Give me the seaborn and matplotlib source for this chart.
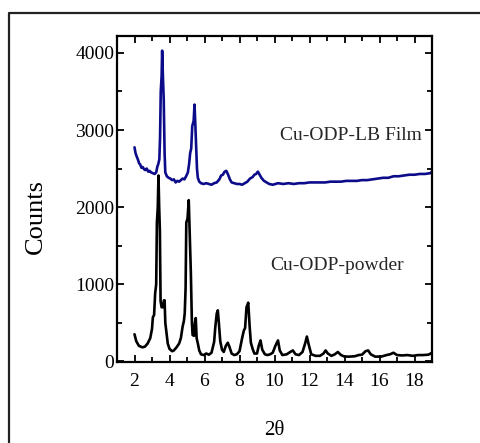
import numpy as np
import pandas as pd
import matplotlib
matplotlib.use("Agg")
import matplotlib.pyplot as plt
from matplotlib.lines import Line2D
from matplotlib.ticker import MultipleLocator
import seaborn as sns

# X-ray diffraction patterns: 2-theta (degrees) and counts
powder_2theta = [2.00, 2.10, 2.25, 2.45, 2.60, 2.75, 2.90, 3.00, 3.05, 3.12, 3.18, 3.24, 3.28, 3.33,
                 3.37, 3.41, 3.45, 3.49, 3.55, 3.62, 3.68, 3.72, 3.76, 3.82, 3.90, 4.00, 4.15, 4.25,
                 4.40, 4.55, 4.65, 4.75, 4.82, 4.87, 4.92, 4.96, 5.03, 5.10, 5.16, 5.22, 5.28, 5.32,
                 5.40, 5.45, 5.50, 5.55, 5.62, 5.70, 5.80, 5.95, 6.10, 6.25, 6.40, 6.55, 6.62, 6.70,
                 6.76, 6.82, 6.90, 7.00, 7.10, 7.22, 7.33, 7.42, 7.55, 7.70, 7.85, 8.00, 8.15, 8.25,
                 8.32, 8.40, 8.50, 8.58, 8.65, 8.75, 8.85, 9.00, 9.10, 9.20, 9.30, 9.45, 9.60, 9.75,
                 9.90, 10.05, 10.20, 10.30, 10.45, 10.70, 10.90, 11.05, 11.20, 11.40, 11.60, 11.75,
                 11.85, 11.95, 12.10, 12.35, 12.60, 12.80, 12.92, 13.05, 13.25, 13.45, 13.62, 13.80,
                 14.00, 14.30, 14.60, 14.80, 15.00, 15.20, 15.35, 15.50, 15.75, 16.10, 16.40, 16.60,
                 16.80, 17.00, 17.30, 17.60, 17.90, 18.20, 18.50, 18.80, 19.00]
powder_counts = [350, 260, 200, 180, 190, 230, 300, 420, 570, 600, 880, 1000, 1800, 2000,
                 2410, 2000, 1700, 780, 700, 700, 790, 790, 500, 380, 230, 160, 130, 140,
                 180, 230, 300, 450, 520, 620, 950, 1800, 1850, 2090, 1600, 1150, 500, 340,
                 330, 500, 560, 300, 230, 140, 90, 80, 100, 85, 110, 250, 450, 620,
                 660, 500, 260, 150, 120, 200, 240, 190, 100, 80, 90, 130, 300, 400,
                 430, 700, 760, 450, 240, 160, 100, 100, 200, 270, 150, 90, 80, 90,
                 110, 200, 270, 140, 80, 90, 120, 140, 90, 80, 120, 230,
                 320, 220, 90, 70, 70, 100, 140, 100, 70, 90, 120, 80,
                 60, 60, 65, 80, 85, 130, 140, 90, 60, 60, 80, 90,
                 110, 80, 75, 80, 70, 80, 80, 85, 110]

film_2theta = [2.00, 2.06, 2.12, 2.19, 2.26, 2.33, 2.40, 2.47, 2.55, 2.62, 2.70, 2.78, 2.86, 2.95,
               3.05, 3.15, 3.24, 3.30, 3.36, 3.42, 3.46, 3.50, 3.55, 3.58, 3.63, 3.67, 3.72, 3.76,
               3.85, 3.95, 4.05, 4.15, 4.25, 4.35, 4.45, 4.55, 4.65, 4.75, 4.85, 4.95, 5.05, 5.12,
               5.18, 5.24, 5.30, 5.38, 5.43, 5.48, 5.52, 5.57, 5.62, 5.70, 5.80, 5.95, 6.10, 6.25,
               6.40, 6.55, 6.70, 6.85, 6.95, 7.05, 7.15, 7.25, 7.35, 7.45, 7.55, 7.70, 7.85, 8.00,
               8.15, 8.30, 8.45, 8.60, 8.75, 8.85, 8.95, 9.05, 9.15, 9.25, 9.40, 9.55, 9.70, 9.90,
               10.20, 10.50, 10.80, 11.10, 11.40, 11.70, 12.00, 12.30, 12.60, 12.90, 13.20, 13.50,
               13.80, 14.10, 14.40, 14.70, 15.00, 15.30, 15.60, 15.90, 16.20, 16.50, 16.80, 17.10,
               17.40, 17.70, 18.00, 18.30, 18.60, 18.90, 19.00]
film_counts = [2776, 2700, 2660, 2620, 2570, 2550, 2510, 2520, 2490, 2480, 2500, 2460, 2470, 2450,
               2440, 2430, 2450, 2520, 2560, 2620, 2900, 3500, 3700, 4030, 3650, 3400, 2700, 2450,
               2400, 2380, 2370, 2350, 2360, 2320, 2340, 2330, 2350, 2370, 2360, 2400, 2450, 2560,
               2700, 2760, 3050, 3120, 3330, 3050, 2800, 2500, 2380, 2330, 2310, 2300, 2310, 2300,
               2290, 2310, 2320, 2360, 2410, 2420, 2460, 2470, 2420, 2360, 2320, 2310, 2300, 2300,
               2290, 2310, 2330, 2370, 2390, 2420, 2430, 2460, 2420, 2380, 2340, 2320, 2300, 2290,
               2310, 2300, 2310, 2300, 2310, 2310, 2320, 2320, 2320, 2320, 2330, 2330,
               2330, 2340, 2340, 2340, 2350, 2350, 2360, 2370, 2380, 2380, 2400, 2400,
               2410, 2420, 2420, 2430, 2430, 2440, 2460]

x_ticks = [2, 4, 6, 8, 10, 12, 14, 16, 18]
y_ticks = [0, 1000, 2000, 3000, 4000]

sns.set_style("ticks")
plt.rcParams["font.family"] = ["Liberation Serif", "DejaVu Serif"]

W, H = 481, 443
fig = plt.figure(figsize=(W / 100, H / 100), dpi=100)
ax = fig.add_axes([117 / W, 1 - 362 / H, (432 - 117) / W, (362 - 36) / H])

powder = pd.DataFrame({"two_theta": powder_2theta, "counts": powder_counts})
film = pd.DataFrame({"two_theta": film_2theta, "counts": film_counts})

sns.lineplot(data=powder, x="two_theta", y="counts", ax=ax, color="black",
             linewidth=1.9, sort=False, estimator=None)
sns.lineplot(data=film, x="two_theta", y="counts", ax=ax, color="#0c0c8a",
             linewidth=1.9, sort=False, estimator=None)

ax.set_xlim(1, 19)
ax.set_ylim(-10, 4220)
ax.set_xticks(x_ticks)
ax.set_yticks(y_ticks)
ax.xaxis.set_minor_locator(MultipleLocator(1))
ax.yaxis.set_minor_locator(MultipleLocator(500))
ax.tick_params(which="both", direction="in", top=True, right=True, width=1.3,
               color="black", labelsize=14, labelcolor="black")
ax.tick_params(which="major", length=5)
ax.tick_params(which="minor", length=3.5)
ax.tick_params(axis="x", which="major", pad=8)
ax.tick_params(axis="y", which="major", pad=2)
for s in ax.spines.values():
    s.set_visible(True)
    s.set_linewidth(1.6)
    s.set_color("black")

ax.set_xlabel("2θ", fontsize=15, labelpad=22, color="black")
ax.set_ylabel("Counts", fontsize=19, color="black")
ax.yaxis.set_label_coords(-0.222, 0.445)

ax.text(14.34, 2930, "Cu-ODP-LB Film", fontsize=14, ha="center", va="center")
ax.text(13.6, 1245, "Cu-ODP-powder", fontsize=14, ha="center", va="center")

# outer frame around the figure panel
fx = lambda px: px / W
fy = lambda py: 1 - py / H
fig.add_artist(Line2D([fx(9), fx(9), fx(W + 5)], [fy(H + 5), fy(12.5), fy(12.5)],
                      transform=fig.transFigure, color="#222222", linewidth=1.6))

fig.savefig("out.png", dpi=100)
